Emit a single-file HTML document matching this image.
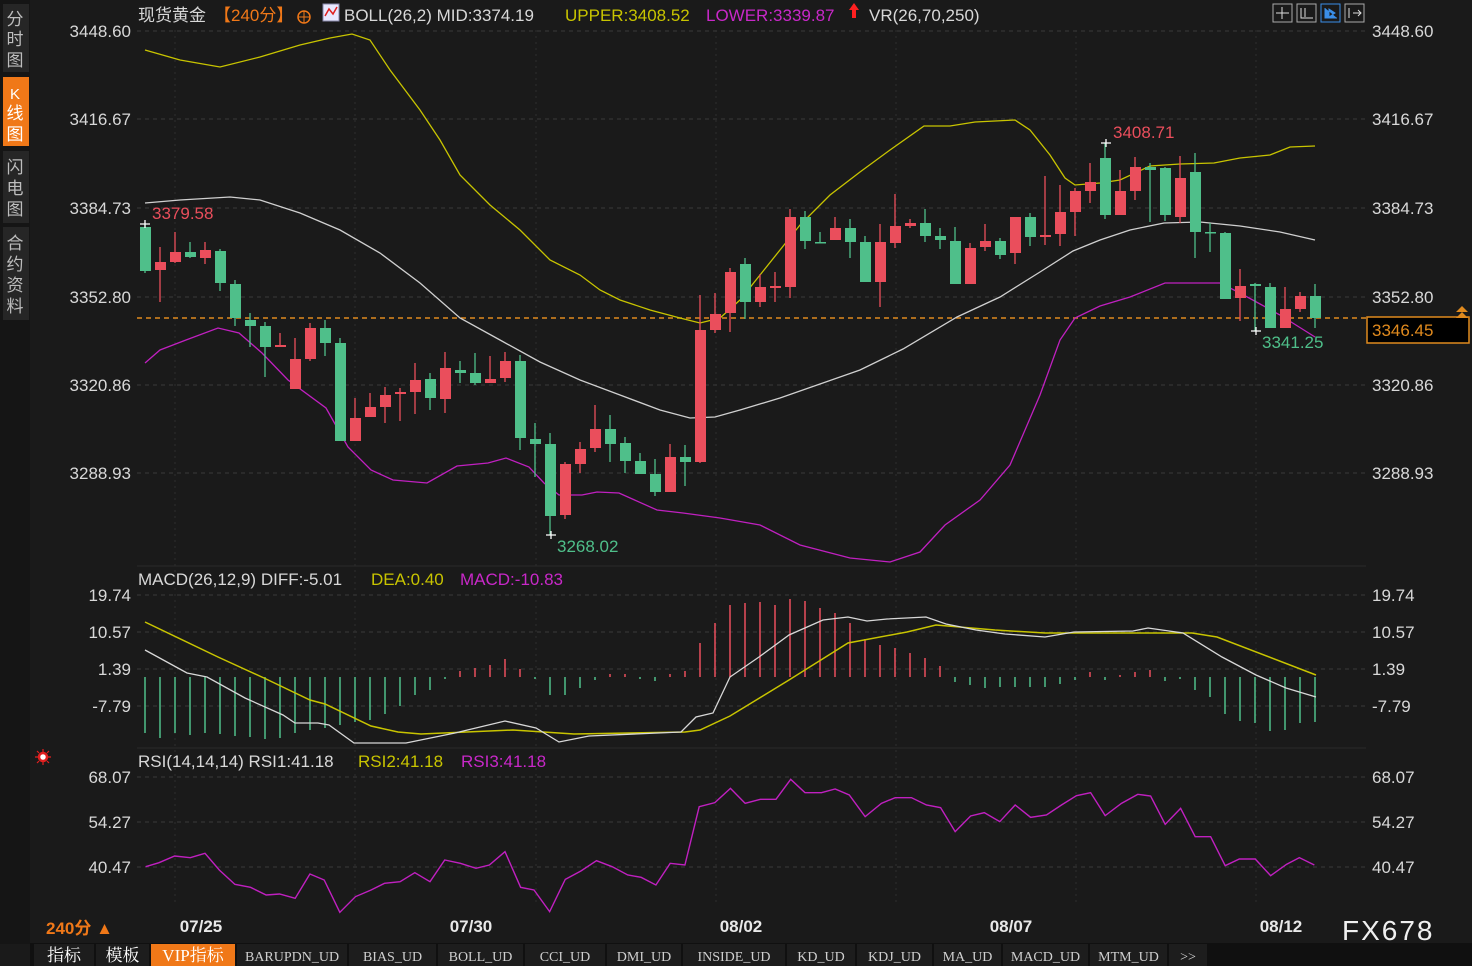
<!DOCTYPE html>
<html><head><meta charset="utf-8">
<style>
html,body{margin:0;padding:0;background:#1a1a1a;}
body{width:1472px;height:966px;overflow:hidden;position:relative;font-family:"Liberation Sans","Noto Sans CJK SC",sans-serif;}
svg{position:absolute;left:0;top:0;}
</style></head>
<body>
<svg id="s" width="1472" height="966" xmlns="http://www.w3.org/2000/svg" font-family="Liberation Sans, Noto Sans CJK SC, sans-serif">
<rect x="0" y="0" width="1472" height="966" fill="#1a1a1a"/>
<!-- sidebar -->
<rect x="0" y="0" width="30" height="944" fill="#151515"/>
<rect x="3" y="4" width="26" height="68" fill="#262626"/>
<rect x="3" y="77" width="26" height="69" fill="#f07818"/>
<rect x="3" y="151" width="26" height="72" fill="#262626"/>
<rect x="3" y="227" width="26" height="93" fill="#262626"/>
<g font-size="17" fill="#bdbdbd" text-anchor="middle">
<text x="15" y="25">分</text><text x="15" y="45">时</text><text x="15" y="66">图</text>
<text x="15" y="99" fill="#fff" font-size="15">K</text><text x="15" y="119" fill="#fff">线</text><text x="15" y="140" fill="#fff">图</text>
<text x="15" y="173">闪</text><text x="15" y="194">电</text><text x="15" y="215">图</text>
<text x="15" y="249">合</text><text x="15" y="270">约</text><text x="15" y="291">资</text><text x="15" y="312">料</text>
</g>
<g id="grid"></g>
<g id="plot"></g>
<!-- header -->
<g font-size="17">
<text x="138" y="21" fill="#d8d8d8">现货黄金</text>
<text x="214" y="21" fill="#f07818">【240分】</text>
<circle cx="304" cy="17" r="6" fill="none" stroke="#f07818" stroke-width="1.5"/><line x1="298" y1="17" x2="310" y2="17" stroke="#f07818"/><line x1="304" y1="11" x2="304" y2="23" stroke="#f07818"/>
<rect x="323" y="4" width="16" height="17" fill="#e8e8ff" stroke="#88a" /><polyline points="325,16 329,9 333,14 337,7" fill="none" stroke="#e02020" stroke-width="1.5"/>
<text x="344" y="21" fill="#d8d8d8">BOLL(26,2) MID:3374.19</text>
<text x="565" y="21" fill="#c8c400">UPPER:3408.52</text>
<text x="706" y="21" fill="#c828c8">LOWER:3339.87</text>
<path d="M854,3 L859,10 L856,10 L856,18 L852,18 L852,10 L849,10 Z" fill="#ff2020"/>
<text x="869" y="21" fill="#d8d8d8">VR(26,70,250)</text>
</g>
<g stroke="#aaa" fill="none">
<rect x="1273" y="4" width="19" height="18"/><rect x="1297" y="4" width="19" height="18"/><rect x="1321" y="4" width="19" height="18" stroke="#3a8ee8"/><rect x="1345" y="4" width="19" height="18"/>
<path d="M1282,7v12M1276,13h13" stroke="#ddd"/><path d="M1301,8v10h12M1305,8v9" stroke="#ddd"/><path d="M1325,8v10h12M1329,9l6,4l-6,4z" stroke="#3a8ee8" fill="#3a8ee8"/><path d="M1349,8v10M1353,13h8M1358,10l3,3l-3,3" stroke="#ddd"/>
</g>
<!-- panel titles -->
<g font-size="17">
<text x="138" y="585" fill="#d8d8d8">MACD(26,12,9) DIFF:-5.01</text>
<text x="371" y="585" fill="#c8c400">DEA:0.40</text>
<text x="460" y="585" fill="#c828c8">MACD:-10.83</text>
<text x="138" y="767" fill="#d8d8d8">RSI(14,14,14) RSI1:41.18</text>
<text x="358" y="767" fill="#c8c400">RSI2:41.18</text>
<text x="461" y="767" fill="#c828c8">RSI3:41.18</text>
</g>
<circle cx="43" cy="757" r="4" fill="#fff" stroke="#e02020" stroke-width="2.5"/>
<g stroke="#e02020" stroke-width="1.2"><path d="M35,757h3M48,757h3M43,749v3M43,762v3M37,751l2,2M47,761l2,2M49,751l-2,2M37,763l2,-2"/></g>
<!-- axis labels -->
<g id="axis" font-size="17" fill="#d8d8d8"></g>
<!-- bottom -->
<text x="46" y="934" font-size="17" fill="#f07818" font-weight="bold">240分 ▲</text>
<g font-size="17" fill="#e8e8e8" font-weight="bold" text-anchor="middle">
<text x="201" y="932">07/25</text><text x="471" y="932">07/30</text><text x="741" y="932">08/02</text><text x="1011" y="932">08/07</text><text x="1281" y="932">08/12</text>
</g>
<text x="1342" y="940" font-size="28" fill="#f0f0f0" letter-spacing="2">FX678</text>
<g id="tabs" font-family="Liberation Serif, Noto Serif CJK SC, serif" font-size="15"></g>
</svg>
<script>
var NS="http://www.w3.org/2000/svg";
function el(p,t,a,txt){var e=document.createElementNS(NS,t);for(var k in a)e.setAttribute(k,a[k]);if(txt!=null)e.textContent=txt;document.getElementById(p).appendChild(e);return e;}
var R="#ea4e5c",G="#4fbf8a",Y="#c8c400",M="#c020c0",W="#d8d8d8";
// grid
[31,119,208,297,385,473,595,632,669,706,777,822,867].forEach(function(y){el("grid","line",{x1:137,x2:1366,y1:y,y2:y,stroke:"#3a3a3a","stroke-dasharray":"4,4"});});
[175,355,536,716,896,1076,1256].forEach(function(x){el("grid","line",{x1:x,x2:x,y1:30,y2:905,stroke:"#2e2e2e","stroke-dasharray":"2,4"});});
el("grid","line",{x1:137,x2:1366,y1:566,y2:566,stroke:"#2a2a2a"});
el("grid","line",{x1:137,x2:1366,y1:748,y2:748,stroke:"#2a2a2a"});
// axis labels
var L=[["3448.60",31],["3416.67",119],["3384.73",208],["3352.80",297],["3320.86",385],["3288.93",473],["19.74",595],["10.57",632],["1.39",669],["-7.79",706],["68.07",777],["54.27",822],["40.47",867]];
L.forEach(function(a){el("axis","text",{x:131,y:a[1]+6,"text-anchor":"end"},a[0]);el("axis","text",{x:1372,y:a[1]+6},a[0]);});
// orange current line
el("plot","line",{x1:137,x2:1366,y1:318,y2:318,stroke:"#e08a1e","stroke-dasharray":"5,4","stroke-width":1.5});
// bollinger
function pl(pts,c,w){el("plot","polyline",{points:pts.map(function(p){return p[0]+","+p[1]}).join(" "),fill:"none",stroke:c,"stroke-width":w||1.3});}
pl([[145,50],[180,60],[220,67],[260,57],[300,45],[330,38],[352,34],[370,40],[390,70],[420,110],[440,140],[460,175],[490,205],[520,230],[550,260],[580,275],[600,290],[620,300],[650,310],[680,318],[700,323],[720,318],[740,300],[760,275],[780,250],[800,225],[830,195],[860,172],[890,150],[924,126],[950,126],[975,122],[1015,120],[1030,130],[1050,155],[1065,178],[1075,185],[1100,183],[1120,180],[1150,166],[1180,164],[1214,163],[1240,158],[1270,155],[1290,147],[1315,146]],Y);
pl([[145,203],[180,200],[230,197],[260,200],[300,213],[340,230],[380,253],[420,283],[460,318],[500,340],[540,362],[580,380],[620,395],[660,410],[690,418],[715,417],[740,410],[780,398],[820,384],[860,370],[903,349],[957,317],[1000,297],[1040,272],[1073,251],[1100,240],[1130,230],[1164,223],[1200,222],[1240,226],[1280,232],[1315,240]],"#d0d0d0");
pl([[145,363],[160,350],[186,340],[218,328],[239,333],[262,353],[288,380],[326,408],[348,447],[371,470],[393,480],[427,483],[457,466],[488,463],[506,458],[529,467],[544,483],[559,495],[582,495],[597,492],[619,493],[657,510],[683,513],[720,518],[760,525],[800,545],[850,558],[890,562],[920,552],[945,525],[980,500],[1010,465],[1040,395],[1060,340],[1075,318],[1100,306],[1130,297],[1165,283],[1200,283],[1220,283],[1240,293],[1280,315],[1315,337]],M);
// candles: [bodyTop, bodyBot, wickTop, wickBot, color]
var C=[[227,271,224,273,G],[262,270,247,302,R],[252,262,232,263,R],[252,257,242,258,G],[250,258,242,264,R],[251,283,249,291,G],[284,318,280,326,G],[320,326,313,347,G],[326,347,322,377,G],[345,347,333,347,R],[359,389,338,389,R],[328,359,323,361,R],[328,343,320,356,G],[343,441,338,441,G],[418,441,398,441,R],[407,417,393,417,R],[395,407,387,423,R],[392,394,388,421,R],[380,392,363,414,R],[379,398,373,410,G],[368,399,352,413,R],[370,373,361,383,G],[373,383,353,385,G],[379,383,356,383,R],[361,378,352,382,R],[361,438,355,450,G],[439,444,423,477,G],[444,516,433,535,G],[464,515,462,519,R],[449,464,442,473,R],[429,448,405,452,R],[429,444,415,462,G],[443,461,437,473,G],[461,474,453,474,G],[474,492,459,496,G],[457,492,444,492,R],[457,462,445,486,G],[330,462,295,463,R],[314,330,293,333,R],
[272,313,268,332,R],[264,302,258,319,G],[287,302,274,307,R],[286,288,272,302,R],[217,287,209,298,R],[217,241,211,249,G],[242,243,232,243,G],[228,240,217,240,R],[228,242,219,258,G],[242,282,236,282,G],[242,282,224,307,R],[226,243,194,248,R],[223,226,219,228,R],[223,236,209,242,G],[236,240,228,249,G],[241,284,227,284,G],[248,284,243,284,R],[241,247,224,251,R],[241,255,238,259,G],[217,253,217,264,R],[217,237,213,246,G],[235,237,176,245,R],[212,234,185,246,R],[191,212,188,236,R],[182,191,163,203,R],[158,215,143,219,G],[191,215,170,215,R],[167,191,157,200,R],[167,170,163,222,G],[168,215,167,221,G],[178,217,156,223,R],[172,232,153,258,G],[232,233,223,252,G],[233,299,232,299,G],[286,298,269,321,R],[284,286,283,331,G],[287,328,283,328,G],[309,328,287,328,R],[296,309,292,312,R],[296,318,284,328,G]];
C.forEach(function(c,i){var x=145+15*i;
 el("plot","line",{x1:x,x2:x,y1:c[2],y2:c[3],stroke:c[4],"stroke-width":1.3});
 el("plot","rect",{x:x-5,y:c[0],width:11,height:Math.max(1.5,c[1]-c[0]),fill:c[4]});});
// markers
function cross(x,y){el("plot","path",{d:"M"+(x-5)+","+y+"h10M"+x+","+(y-4)+"v8",stroke:"#fff","stroke-width":1.3});}
cross(145,224);cross(1106,143);cross(551,535);cross(1256,331);
el("plot","text",{x:152,y:219,fill:R,"font-size":17},"3379.58");
el("plot","text",{x:1113,y:138,fill:R,"font-size":17},"3408.71");
el("plot","text",{x:557,y:552,fill:G,"font-size":17},"3268.02");
el("plot","text",{x:1262,y:348,fill:G,"font-size":17},"3341.25");
el("plot","rect",{x:1367,y:317,width:102,height:26,fill:"#000",stroke:"#e08a1e","stroke-width":1.5});
el("plot","text",{x:1372,y:336,fill:"#e08a1e","font-size":17},"3346.45");
el("plot","path",{d:"M1456,312l6,-6l6,6zM1456,318l6,-6l6,6z",fill:"#e08a1e"});
// MACD histogram (end y from baseline 677)
var H=[733,738,733,735,733,734,736,737,739,738,733,730,728,725,722,720,714,706,695,690,679,671,668,665,659,669,679,695,695,688,680,674,674,679,681,674,671,643,623,
605,603,602,605,599,601,608,613,623,639,645,648,653,658,666,682,685,688,687,687,687,687,684,680,672,680,675,672,670,681,679,690,697,714,721,723,731,730,723,722];
H.forEach(function(h,i){var x=145+15*i;el("plot","line",{x1:x,x2:x,y1:677,y2:h,stroke:h>677?G:R,"stroke-width":1.5});});
pl([[145,622],[218,657],[264,678],[310,700],[325,704],[371,726],[398,732],[421,734],[513,730],[574,734],[685,732],[700,730],[730,716],[789,680],[848,643],[907,632],[936,625],[995,630],[1045,633],[1192,633],[1217,637],[1316,675]],Y,1.5);
pl([[145,650],[187,673],[207,677],[245,698],[283,715],[295,723],[318,723],[329,725],[354,743],[406,743],[455,733],[505,721],[536,728],[559,742],[589,736],[681,732],[696,717],[713,713],[730,677],[759,657],[789,635],[823,620],[848,617],[867,621],[887,619],[926,617],[946,624],[976,630],[1005,634],[1045,637],[1074,632],[1133,631],[1148,628],[1183,633],[1222,657],[1256,675],[1286,688],[1316,697]],"#d8d8d8",1.3);
// RSI
var r1=[[35,350],[65,338],[100,318],[135,323],[168,310],[200,360],[235,403],[270,412],[305,435],[335,432],[370,445],[403,372],[435,390],[470,487],[505,440],[540,420],[570,400],[605,395],[638,368],[672,395],[705,330],[740,340],[775,355],[805,345],[840,305],[875,412],[905,420],[940,485],[975,388],[1010,363],[1045,332],[1080,350],[1115,375],[1145,382],[1178,405],[1210,340],[1243,345],[1275,170],[1310,158],[1345,115],[1378,160],[1412,148],[1447,148],[1480,88],[1512,128],[1545,128]].map(function(p){return [130+p[0]/2.24,750+p[1]/3];});
var r2=[[15,128],[50,128],[82,117],[115,135],[152,200],[190,160],[222,143],[260,143],[295,165],[328,173],[362,245],[398,198],[430,188],[466,215],[502,165],[538,202],[575,195],[610,165],[645,137],[678,128],[712,197],[750,160],[788,133],[818,138],[852,223],[888,175],[922,260],[958,260],[992,347],[1025,327],[1062,327],[1098,377],[1135,343],[1165,323],[1200,345]].map(function(p){return [800+p[0]/2.333,750+p[1]/3];});
pl(r1.concat(r2),M,1.4);
// tabs
el("tabs","rect",{x:30,y:943,width:1442,height:23,fill:"#101010"});
var T=[["指标",33,95],["模板",95,150],["VIP指标",150,236],["BARUPDN_UD",236,348],["BIAS_UD",348,437],["BOLL_UD",437,524],["CCI_UD",524,606],["DMI_UD",606,682],["INSIDE_UD",682,786],["KD_UD",786,856],["KDJ_UD",856,933],["MA_UD",933,1002],["MACD_UD",1002,1089],["MTM_UD",1089,1168],[">>",1168,1208]];
T.forEach(function(t,i){el("tabs","rect",{x:t[1]+1,y:944,width:t[2]-t[1]-2,height:22,fill:i==2?"#f07818":"#1d1d1d"});
 el("tabs","text",{x:(t[1]+t[2])/2,y:961,"text-anchor":"middle",fill:i<3?"#fff":"#cfcfcf","font-size":i<3?17:14},t[0]);});
</script>
</body></html>
